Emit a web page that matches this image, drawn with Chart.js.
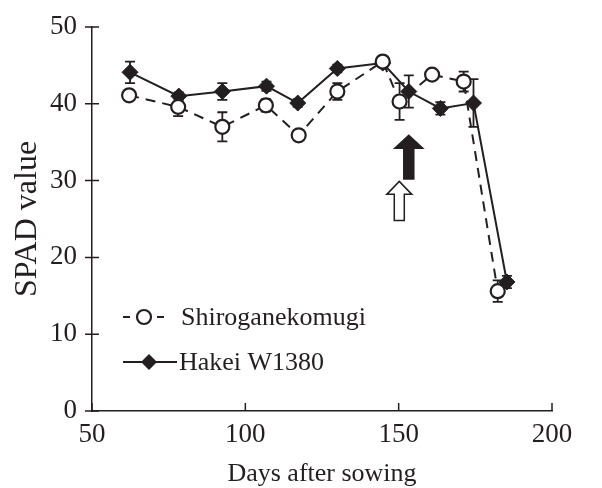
<!DOCTYPE html>
<html>
<head>
<meta charset="utf-8">
<script src="https://cdn.jsdelivr.net/npm/chart.js@4.4.1/dist/chart.umd.min.js"></script>
<style>
  html, body { margin: 0; padding: 0; background: #fff; }
  #wrap { width: 602px; height: 488px; }
</style>
</head>
<body>
<div id="wrap"><canvas id="spad"></canvas></div>
<script>
// Days after sowing for each sampling
const shiroDays = [62.1, 78.1, 92.5, 106.7, 117.4, 130.0, 144.8, 150.3, 160.9, 171.2, 182.3];
const hakeiDays = [62.4, 78.3, 92.5, 106.9, 117.1, 130.0, 144.8, 153.3, 163.6, 174.4, 185.3];

// SPAD readings
const shiroSpad = [41.1, 39.6, 37.0, 39.8, 35.9, 41.6, 45.5, 40.3, 43.8, 42.9, 15.6];
const hakeiSpad = [44.1, 41.0, 41.6, 42.3, 40.1, 44.6, 45.3, 41.6, 39.4, 40.1, 16.8];

// error bar half-lengths
const shiroErr = [0.6, 1.2, 1.9, 0.8, 0.5, 1.1, 0.6, 2.4, 0.5, 1.3, 1.4];
const hakeiErr = [1.4, 0.5, 1.1, 0.6, 0.5, 0.5, 0.5, 2.1, 0.8, 3.1, 0.8];

// heading arrows (open = Shiroganekomugi, filled = Hakei W1380)
const arrowDays = [150.2, 153.3];
const arrowFrom = [24.8, 30.2];
const arrowTo = [29.9, 35.9];

// axis ticks
const xTicks = [50, 100, 150, 200];
const yTicks = [0, 10, 20, 30, 40, 50];

const seriesNames = ["Shiroganekomugi", "Hakei W1380"];

const ink = "#231f20";
const serif = '"Liberation Serif", "Times New Roman", serif';

Chart.defaults.font.family = serif;
Chart.defaults.color = ink;

const toPoints = (xs, ys) => xs.map((x, i) => ({ x: x, y: ys[i] }));

// error bars under the markers
const errorBars = {
    id: "errorBars",
    beforeDatasetsDraw(chart) {
        const { ctx, scales: { x, y } } = chart;
        const sets = [[shiroDays, shiroSpad, shiroErr], [hakeiDays, hakeiSpad, hakeiErr]];
        ctx.save();
        ctx.strokeStyle = ink;
        ctx.lineWidth = 1.8;
        sets.forEach(([xs, ys, es]) => {
            xs.forEach((d, i) => {
                const px = x.getPixelForValue(d);
                const top = y.getPixelForValue(ys[i] + es[i]);
                const bot = y.getPixelForValue(ys[i] - es[i]);
                ctx.beginPath();
                ctx.moveTo(px, top); ctx.lineTo(px, bot);
                ctx.moveTo(px - 5, top); ctx.lineTo(px + 5, top);
                ctx.moveTo(px - 5, bot); ctx.lineTo(px + 5, bot);
                ctx.stroke();
            });
        });
        ctx.restore();
    }
};

// tick marks, arrows and the legend
const extras = {
    id: "extras",
    afterDraw(chart) {
        const { ctx, chartArea: area, scales: { x, y } } = chart;
        ctx.save();
        ctx.strokeStyle = ink;
        ctx.fillStyle = ink;
        ctx.lineWidth = 1.5;

        // y ticks cross the axis, x ticks point inward
        ctx.beginPath();
        yTicks.forEach(v => {
            const py = y.getPixelForValue(v);
            ctx.moveTo(area.left - 7, py); ctx.lineTo(area.left + 7, py);
        });
        xTicks.forEach(v => {
            const px = x.getPixelForValue(v);
            ctx.moveTo(px, area.bottom); ctx.lineTo(px, area.bottom - 8);
        });
        ctx.stroke();

        // arrows
        arrowDays.forEach((d, i) => {
            const px = x.getPixelForValue(d);
            const yb = y.getPixelForValue(arrowFrom[i]);
            const yt = y.getPixelForValue(arrowTo[i]);
            const hw = i === 0 ? 12.5 : 14;
            const sw = 5;
            const hh = 13;
            ctx.beginPath();
            ctx.moveTo(px, yt);
            ctx.lineTo(px + hw, yt + hh);
            ctx.lineTo(px + sw, yt + hh);
            ctx.lineTo(px + sw, yb);
            ctx.lineTo(px - sw, yb);
            ctx.lineTo(px - sw, yt + hh);
            ctx.lineTo(px - hw, yt + hh);
            ctx.closePath();
            ctx.fillStyle = i === 0 ? "#ffffff" : ink;
            ctx.fill();
            ctx.lineWidth = 1.5;
            ctx.stroke();
        });

        // legend
        const lx = area.left + 31;
        const rows = [area.top + 290, area.top + 335];
        ctx.lineWidth = 2;
        ctx.beginPath();
        ctx.moveTo(lx, rows[0]); ctx.lineTo(lx + 7, rows[0]);
        ctx.moveTo(lx + 34, rows[0]); ctx.lineTo(lx + 41, rows[0]);
        ctx.stroke();
        ctx.beginPath();
        ctx.arc(lx + 21, rows[0], 7, 0, Math.PI * 2);
        ctx.fillStyle = "#ffffff";
        ctx.fill();
        ctx.lineWidth = 2.2;
        ctx.stroke();

        ctx.lineWidth = 2;
        ctx.beginPath();
        ctx.moveTo(lx, rows[1]); ctx.lineTo(lx + 54, rows[1]);
        ctx.stroke();
        const dx = lx + 26;
        ctx.beginPath();
        ctx.moveTo(dx, rows[1] - 8); ctx.lineTo(dx + 8, rows[1]);
        ctx.lineTo(dx, rows[1] + 8); ctx.lineTo(dx - 8, rows[1]);
        ctx.closePath();
        ctx.fillStyle = ink;
        ctx.fill();

        ctx.font = "26px " + serif;
        ctx.textBaseline = "middle";
        ctx.textAlign = "left";
        ctx.fillText(seriesNames[0], lx + 58, rows[0] + 1);
        ctx.fillText(seriesNames[1], lx + 56, rows[1] + 1);
        ctx.restore();
    }
};

const ctx = document.getElementById("spad").getContext("2d");
new Chart(ctx, {
    type: "line",
    data: {
        datasets: [
            {
                label: seriesNames[0],
                data: toPoints(shiroDays, shiroSpad),
                borderColor: ink,
                borderWidth: 2,
                borderDash: [10, 7],
                pointStyle: "circle",
                pointRadius: 7,
                pointBorderWidth: 2.2,
                pointBackgroundColor: "#ffffff",
                pointBorderColor: ink,
                tension: 0
            },
            {
                label: seriesNames[1],
                data: toPoints(hakeiDays, hakeiSpad),
                borderColor: ink,
                borderWidth: 2,
                pointStyle: "rectRot",
                pointRadius: 8,
                pointBorderWidth: 1,
                pointBackgroundColor: ink,
                pointBorderColor: ink,
                tension: 0
            }
        ]
    },
    options: {
        responsive: true,
        maintainAspectRatio: false,
        animation: false,
        events: [],
        layout: { padding: { top: 27, right: 50, left: 0, bottom: 0 } },
        plugins: {
            legend: { display: false },
            tooltip: { enabled: false }
        },
        scales: {
            x: {
                type: "linear",
                min: 50,
                max: 200,
                afterBuildTicks: s => { s.ticks = xTicks.map(v => ({ value: v })); },
                afterFit: s => { s.height = 77; s.paddingLeft = 0; s.paddingRight = 0; },
                grid: { display: true, drawOnChartArea: false, drawTicks: false },
                border: { display: true, color: ink, width: 1.5 },
                ticks: { padding: 8, font: { size: 27 }, color: ink, maxRotation: 0 },
                title: {
                    display: true,
                    text: "Days after sowing",
                    font: { size: 26, lineHeight: 1 },
                    color: ink,
                    padding: { top: 0, bottom: 1 }
                }
            },
            y: {
                min: 0,
                max: 50,
                afterBuildTicks: s => { s.ticks = yTicks.map(v => ({ value: v })); },
                afterFit: s => { s.width = 92; s.paddingTop = 0; s.paddingBottom = 0; },
                grid: { display: true, drawOnChartArea: false, drawTicks: false },
                border: { display: true, color: ink, width: 1.5 },
                ticks: { padding: 15, font: { size: 27 }, color: ink },
                title: {
                    display: true,
                    text: "SPAD value",
                    font: { size: 32, lineHeight: 1 },
                    color: ink,
                    padding: { top: 12, bottom: 0 }
                }
            }
        }
    },
    plugins: [errorBars, extras]
});
</script>
</body>
</html>
